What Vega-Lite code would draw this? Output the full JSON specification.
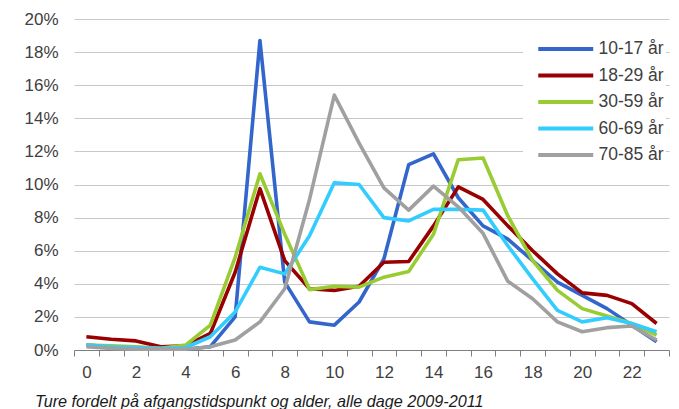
{
  "$schema": "https://vega.github.io/schema/vega-lite/v6.json",
  "width": 595,
  "height": 331,
  "autosize": {"type": "none"},
  "padding": {"left": 74, "top": 19, "right": 10, "bottom": 59},
  "config": {
    "font": "Liberation Sans",
    "view": {"stroke": null}
  },
  "title": {
    "text": "Ture fordelt på afgangstidspunkt og alder, alle dage 2009-2011",
    "orient": "bottom",
    "anchor": "start",
    "frame": "group",
    "fontStyle": "italic",
    "fontWeight": "normal",
    "fontSize": 16.2,
    "color": "#1a1a1a",
    "offset": 14,
    "dx": -39
  },
  "data": {
    "values": [
      {"h":0,"g":"10-17 år","v":0.3},{"h":1,"g":"10-17 år","v":0.2},{"h":2,"g":"10-17 år","v":0.15},{"h":3,"g":"10-17 år","v":0.05},{"h":4,"g":"10-17 år","v":0.05},{"h":5,"g":"10-17 år","v":0.2},{"h":6,"g":"10-17 år","v":2.0},{"h":7,"g":"10-17 år","v":18.7},{"h":8,"g":"10-17 år","v":4.1},{"h":9,"g":"10-17 år","v":1.7},{"h":10,"g":"10-17 år","v":1.5},{"h":11,"g":"10-17 år","v":2.9},{"h":12,"g":"10-17 år","v":5.5},{"h":13,"g":"10-17 år","v":11.2},{"h":14,"g":"10-17 år","v":11.85},{"h":15,"g":"10-17 år","v":9.2},{"h":16,"g":"10-17 år","v":7.5},{"h":17,"g":"10-17 år","v":6.7},{"h":18,"g":"10-17 år","v":5.4},{"h":19,"g":"10-17 år","v":4.1},{"h":20,"g":"10-17 år","v":3.3},{"h":21,"g":"10-17 år","v":2.5},{"h":22,"g":"10-17 år","v":1.5},{"h":23,"g":"10-17 år","v":0.5},
      {"h":0,"g":"18-29 år","v":0.8},{"h":1,"g":"18-29 år","v":0.65},{"h":2,"g":"18-29 år","v":0.55},{"h":3,"g":"18-29 år","v":0.2},{"h":4,"g":"18-29 år","v":0.25},{"h":5,"g":"18-29 år","v":1.0},{"h":6,"g":"18-29 år","v":4.7},{"h":7,"g":"18-29 år","v":9.75},{"h":8,"g":"18-29 år","v":5.4},{"h":9,"g":"18-29 år","v":3.7},{"h":10,"g":"18-29 år","v":3.6},{"h":11,"g":"18-29 år","v":3.85},{"h":12,"g":"18-29 år","v":5.3},{"h":13,"g":"18-29 år","v":5.35},{"h":14,"g":"18-29 år","v":7.5},{"h":15,"g":"18-29 år","v":9.85},{"h":16,"g":"18-29 år","v":9.1},{"h":17,"g":"18-29 år","v":7.5},{"h":18,"g":"18-29 år","v":6.0},{"h":19,"g":"18-29 år","v":4.6},{"h":20,"g":"18-29 år","v":3.45},{"h":21,"g":"18-29 år","v":3.3},{"h":22,"g":"18-29 år","v":2.8},{"h":23,"g":"18-29 år","v":1.6},
      {"h":0,"g":"30-59 år","v":0.3},{"h":1,"g":"30-59 år","v":0.25},{"h":2,"g":"30-59 år","v":0.2},{"h":3,"g":"30-59 år","v":0.1},{"h":4,"g":"30-59 år","v":0.3},{"h":5,"g":"30-59 år","v":1.5},{"h":6,"g":"30-59 år","v":5.6},{"h":7,"g":"30-59 år","v":10.65},{"h":8,"g":"30-59 år","v":7.0},{"h":9,"g":"30-59 år","v":3.65},{"h":10,"g":"30-59 år","v":3.85},{"h":11,"g":"30-59 år","v":3.8},{"h":12,"g":"30-59 år","v":4.4},{"h":13,"g":"30-59 år","v":4.75},{"h":14,"g":"30-59 år","v":7.0},{"h":15,"g":"30-59 år","v":11.5},{"h":16,"g":"30-59 år","v":11.6},{"h":17,"g":"30-59 år","v":8.1},{"h":18,"g":"30-59 år","v":5.4},{"h":19,"g":"30-59 år","v":3.6},{"h":20,"g":"30-59 år","v":2.5},{"h":21,"g":"30-59 år","v":2.05},{"h":22,"g":"30-59 år","v":1.6},{"h":23,"g":"30-59 år","v":0.9},
      {"h":0,"g":"60-69 år","v":0.3},{"h":1,"g":"60-69 år","v":0.2},{"h":2,"g":"60-69 år","v":0.15},{"h":3,"g":"60-69 år","v":0.1},{"h":4,"g":"60-69 år","v":0.15},{"h":5,"g":"60-69 år","v":0.8},{"h":6,"g":"60-69 år","v":2.3},{"h":7,"g":"60-69 år","v":5.0},{"h":8,"g":"60-69 år","v":4.6},{"h":9,"g":"60-69 år","v":6.9},{"h":10,"g":"60-69 år","v":10.1},{"h":11,"g":"60-69 år","v":10.0},{"h":12,"g":"60-69 år","v":8.0},{"h":13,"g":"60-69 år","v":7.8},{"h":14,"g":"60-69 år","v":8.5},{"h":15,"g":"60-69 år","v":8.5},{"h":16,"g":"60-69 år","v":8.45},{"h":17,"g":"60-69 år","v":6.3},{"h":18,"g":"60-69 år","v":4.3},{"h":19,"g":"60-69 år","v":2.4},{"h":20,"g":"60-69 år","v":1.7},{"h":21,"g":"60-69 år","v":1.95},{"h":22,"g":"60-69 år","v":1.6},{"h":23,"g":"60-69 år","v":1.1},
      {"h":0,"g":"70-85 år","v":0.2},{"h":1,"g":"70-85 år","v":0.1},{"h":2,"g":"70-85 år","v":0.05},{"h":3,"g":"70-85 år","v":0.05},{"h":4,"g":"70-85 år","v":0.05},{"h":5,"g":"70-85 år","v":0.2},{"h":6,"g":"70-85 år","v":0.6},{"h":7,"g":"70-85 år","v":1.7},{"h":8,"g":"70-85 år","v":3.7},{"h":9,"g":"70-85 år","v":9.1},{"h":10,"g":"70-85 år","v":15.4},{"h":11,"g":"70-85 år","v":12.5},{"h":12,"g":"70-85 år","v":9.8},{"h":13,"g":"70-85 år","v":8.45},{"h":14,"g":"70-85 år","v":9.9},{"h":15,"g":"70-85 år","v":8.65},{"h":16,"g":"70-85 år","v":7.05},{"h":17,"g":"70-85 år","v":4.15},{"h":18,"g":"70-85 år","v":3.1},{"h":19,"g":"70-85 år","v":1.7},{"h":20,"g":"70-85 år","v":1.1},{"h":21,"g":"70-85 år","v":1.35},{"h":22,"g":"70-85 år","v":1.45},{"h":23,"g":"70-85 år","v":0.6}
    ]
  },
  "mark": {"type": "line", "strokeWidth": 3.6, "strokeJoin": "round"},
  "encoding": {
    "x": {
      "field": "h",
      "type": "ordinal",
      "bandPosition": 0.5,
      "scale": {"type": "band", "paddingInner": 0, "paddingOuter": 0},
      "axis": {
        "title": null,
        "labelAngle": 0,
        "labelExpr": "datum.value % 2 === 0 ? datum.label : ''",
        "labelOverlap": false,
        "tickBand": "extent",
        "tickSize": 6,
        "domainColor": "#7f7f7f",
        "tickColor": "#7f7f7f",
        "labelColor": "#404040",
        "labelFontSize": 17,
        "labelPadding": 8,
        "grid": false
      }
    },
    "y": {
      "field": "v",
      "type": "quantitative",
      "scale": {"domain": [0, 20], "nice": false},
      "axis": {
        "title": null,
        "values": [0, 2, 4, 6, 8, 10, 12, 14, 16, 18, 20],
        "labelExpr": "datum.value + '%'",
        "ticks": false,
        "domain": false,
        "gridColor": "#c8c8c8",
        "labelColor": "#404040",
        "labelFontSize": 17,
        "labelPadding": 16
      }
    },
    "color": {
      "field": "g",
      "type": "nominal",
      "scale": {
        "domain": ["10-17 år", "18-29 år", "30-59 år", "60-69 år", "70-85 år"],
        "range": ["#3366CC", "#990000", "#99CC33", "#33CCFF", "#A0A0A0"]
      },
      "legend": {
        "title": null,
        "orient": "none",
        "legendX": 449,
        "legendY": 12,
        "padding": 2,
        "fillColor": "white",
        "symbolType": "M-2,0H2",
        "symbolSize": 756,
        "symbolStrokeWidth": 4,
        "symbolOffset": 24.75,
        "labelFontSize": 17.5,
        "labelColor": "#404040",
        "labelOffset": 16.75,
        "rowPadding": 1.5
      }
    }
  }
}
